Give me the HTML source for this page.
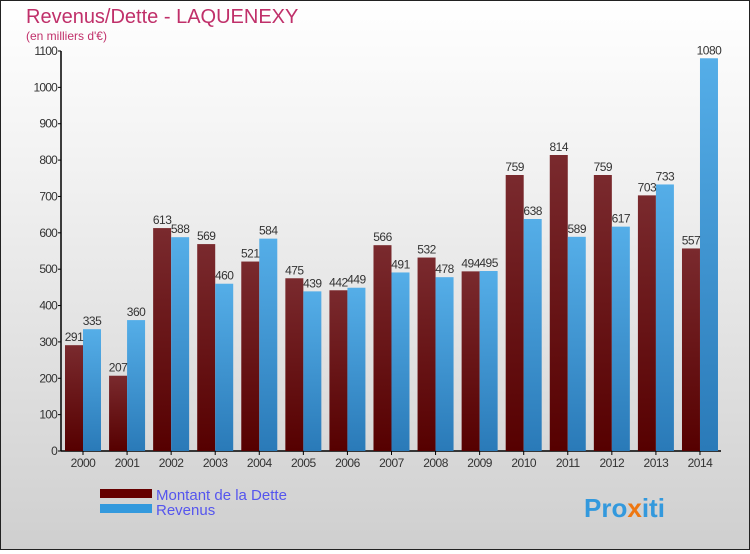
<!DOCTYPE html>
<html><head><meta charset="utf-8"><style>
body{margin:0}
#c{width:748px;height:548px;border:1px solid #222;background:linear-gradient(#fff,#f2f2f2 30%,#cfcfcf);position:relative;font-family:"Liberation Sans",sans-serif}
</style></head><body>
<div id="c">
<svg width="748" height="548" id="s">
<defs>
<linearGradient id="gd" x1="0" y1="0" x2="0" y2="1"><stop offset="0" stop-color="#7a2a2e"/><stop offset="1" stop-color="#560000"/></linearGradient>
<linearGradient id="gr" x1="0" y1="0" x2="0" y2="1"><stop offset="0" stop-color="#55aee8"/><stop offset="1" stop-color="#2a7ab8"/></linearGradient>
</defs>
<text x="25" y="22" font-size="20" fill="#c0306a">Revenus/Dette - LAQUENEXY</text>
<text x="25" y="39" font-size="12" fill="#c0306a">(en milliers d'€)</text>
<rect x="99" y="488" width="52" height="9" fill="#660000"/>
<rect x="99" y="503" width="52" height="9" fill="#3399dd"/>
<text x="155" y="499" font-size="15" fill="#5555ee">Montant de la Dette</text>
<text x="155" y="514" font-size="15" fill="#5555ee">Revenus</text>
<text x="583" y="516" font-size="26" font-weight="bold" fill="#3399dd">Pro<tspan fill="#ee7711">x</tspan>iti</text>
<g id="g"></g>
</svg>
</div>
<script>
const years=["2000","2001","2002","2003","2004","2005","2006","2007","2008","2009","2010","2011","2012","2013","2014"];
const dette=[291,207,613,569,521,475,442,566,532,494,759,814,759,703,557];
const revenus=[335,360,588,460,584,439,449,491,478,495,638,589,617,733,1080];
const ticks=[0,100,200,300,400,500,600,700,800,900,1000,1100];
const NS="http://www.w3.org/2000/svg",g=document.getElementById('g');
const y=v=>450-v*400/1100, x=i=>62+i*44.07;
function mk(t,a,txt){const e=document.createElementNS(NS,t);for(const k in a)e.setAttribute(k,a[k]);if(txt!==undefined)e.textContent=txt;g.appendChild(e);return e;}
let e=mk('line',{x1:60,y1:50,x2:60,y2:450,stroke:'#000','stroke-width':1.5});


e=mk('line',{x1:60,y1:450,x2:720,y2:450,stroke:'#000','stroke-width':1.5});


ticks.forEach(t=>{
 let l=mk('line',{x1:57,y1:y(t),x2:60,y2:y(t),stroke:'#000'});
 
 
 let tx=mk('text',{x:56,y:y(t)+4,'font-size':12,fill:'#333','text-anchor':'end','letter-spacing':'-0.8'},t);
 
 
});
years.forEach((yr,i)=>{
 const x0=x(i);
 let b=mk('rect',{x:x0+2,y:y(dette[i]),width:18,height:450-y(dette[i]),fill:'url(#gd)'});
 
 
 b=mk('rect',{x:x0+20,y:y(revenus[i]),width:18,height:450-y(revenus[i]),fill:'url(#gr)'});
 
 
 let t=mk('text',{x:x0+11,y:y(dette[i])-4,'font-size':12,fill:'#333','text-anchor':'middle','letter-spacing':'-0.5'},dette[i]);
 
 
 t=mk('text',{x:x0+29,y:y(revenus[i])-4,'font-size':12,fill:'#333','text-anchor':'middle','letter-spacing':'-0.5'},revenus[i]);
 
 
 let l=mk('line',{x1:x0+20,y1:450,x2:x0+20,y2:454,stroke:'#000'});
 
 
 t=mk('text',{x:x0+20,y:466,'font-size':12,fill:'#333','text-anchor':'middle','letter-spacing':'-0.5'},yr);
 
 
});
</script>
</body></html>
